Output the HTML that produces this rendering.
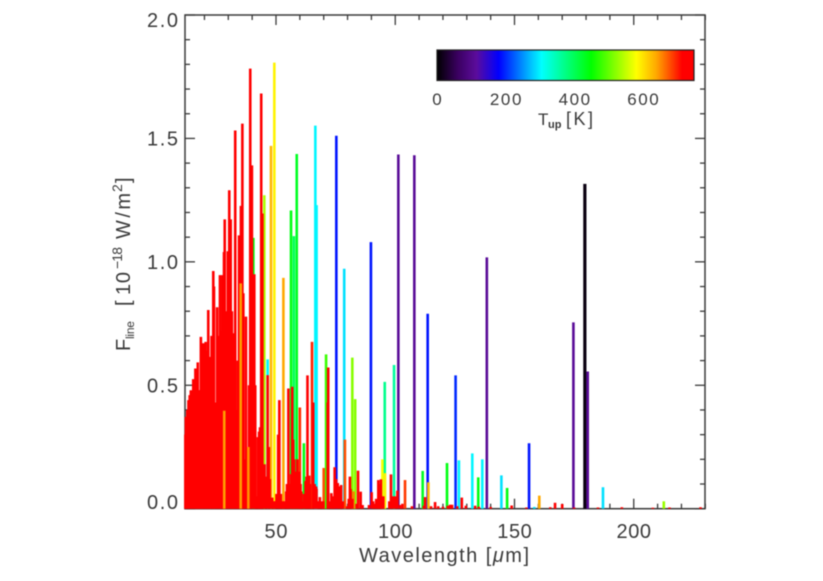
<!DOCTYPE html>
<html lang="en">
<head>
<meta charset="utf-8">
<title>Line flux versus wavelength</title>
<style>
html,body{margin:0;padding:0;background:#fff;}
svg{display:block;filter:blur(0.4px);}
text{font-family:"Liberation Sans",sans-serif;fill:#3a3a3a;}
</style>
</head>
<body>
<svg id="chart" xmlns="http://www.w3.org/2000/svg" width="823" height="581" viewBox="0 0 823 581">
  <defs>
    <linearGradient id="tempGradient" x1="0" x2="1" y1="0" y2="0"></linearGradient>
  </defs>
  <g id="axes"></g>
  <g id="lines"></g>
  <g id="labels">
    <text x="359" y="562" font-size="20" textLength="170">Wavelength [<tspan font-style="italic">μ</tspan>m]</text>
    <g transform="translate(130,351) rotate(-90)">
      <text x="0" y="0" font-size="20">F</text>
      <text x="12" y="4" font-size="12" textLength="18">line</text>
      <text x="45" y="0" font-size="20">[</text>
      <text x="56" y="0" font-size="20" textLength="23">10</text>
      <text x="82" y="-8" font-size="14" textLength="22">−18</text>
      <text x="112" y="0" font-size="20" textLength="46">W/m</text>
      <text x="159" y="-8" font-size="14">2</text>
      <text x="168" y="0" font-size="20">]</text>
    </g>
  </g>
  <g id="colorbar">
    <rect x="437" y="50" width="257" height="30.5" fill="url(#tempGradient)" stroke="#222" stroke-width="1.2"></rect>
    <text x="538" y="125" font-size="17">T</text>
    <text x="548" y="128" font-size="11" font-weight="bold">up</text>
    <text x="566" y="125" font-size="18" textLength="27">[K]</text>
  </g>
</svg>
<script>
const xTicks = [20, 30, 40, 50, 60, 70, 80, 90, 100, 110, 120, 130, 140, 150, 160, 170, 180, 190, 200, 210, 220, 230];
const xTickLabels = [50, 100, 150, 200];
const yTicks = [0, 0.1, 0.2, 0.3, 0.4, 0.5, 0.6, 0.7, 0.8, 0.9, 1, 1.1, 1.2, 1.3, 1.4, 1.5, 1.6, 1.7, 1.8, 1.9, 2];
const yTickLabels = ["0.0", "0.5", "1.0", "1.5", "2.0"];
const colorbarTicks = [0, 200, 400, 600];

const coloredWavelengths = [49.3, 47.9, 45.1, 53.1, 56.3, 58.7, 57.5, 66.5, 67, 75.3, 78.6, 40.5, 46.5, 61.7, 71, 82, 83.2, 89.8, 95.6, 99.5, 101.3, 94.6, 95.7, 108, 113.6, 125.3, 138.4, 174.7, 179.5, 180.7, 111.5, 113.9, 121.7, 126.7, 132.3, 134.8, 136.5, 144.5, 146.9, 156.1, 160.4, 158.3, 187.1, 212.6];
const coloredFluxes = [1.807, 1.47, 1.27, 0.935, 1.208, 1.437, 1.104, 1.552, 1.23, 1.511, 0.972, 1.097, 0.605, 0.265, 0.625, 0.612, 0.444, 1.08, 0.514, 0.582, 1.435, 0.2, 0.144, 1.432, 0.79, 0.54, 1.018, 0.755, 1.316, 0.556, 0.153, 0.107, 0.185, 0.196, 0.224, 0.127, 0.2, 0.135, 0.084, 0.265, 0.053, 0.007, 0.087, 0.03];
const coloredTemps = [590, 630, 540, 640, 440, 430, 400, 300, 300, 190, 290, 440, 300, 440, 480, 520, 520, 190, 370, 360, 110, 580, 590, 110, 190, 200, 110, 110, 10, 110, 430, 630, 440, 300, 300, 440, 300, 290, 440, 190, 640, 290, 290, 530];

const hotWavelengths = [12, 12.2, 12.8, 13.3, 13.8, 14.3, 14.8, 15.3, 15.8, 16.2, 16.7, 17.2, 17.6, 18, 18.5, 19, 19.5, 20, 20.5, 21, 21.6, 22, 22.5, 23, 23.7, 24, 24.5, 25.3, 25.8, 26.5, 27, 27.5, 27.9, 28.2, 28.5, 29, 29.8, 30.4, 31, 31.5, 32, 32.2, 32.9, 33.5, 34, 34.5, 35.3, 35.9, 36.3, 36.6, 37.4, 38.1, 38.7, 39.2, 39.9, 40.9, 41.3, 41.8, 42.4, 42.9, 43.3, 43.8, 44.3, 45.2, 46.5, 47.4, 48.4, 49.3, 50.2, 50.9, 51.4, 52, 52.6, 53.6, 54.3, 54.9, 55.2, 56.8, 57.2, 58, 58.4, 59.3, 60, 60.6, 61.2, 62.4, 63.2, 63.9, 64.5, 65.1, 65.6, 66.8, 67.5, 68.4, 69.3, 70, 71.9, 71.7, 72.7, 73.2, 74, 74.6, 75.9, 77.3, 78.9, 79.9, 80.5, 81, 82.5, 84.4, 85.5, 86.3, 89, 90.1, 91.5, 92.5, 92.9, 93.5, 94, 95, 98.2, 99.5, 100.9, 102, 104.1, 107, 112, 112.5, 116.7, 118, 123, 123.8, 127.9, 129.6, 133.5, 148.8, 155, 167, 170, 195, 208, 228];
const hotFluxes = [0.3, 0.372, 0.4, 0.44, 0.46, 0.48, 0.46, 0.525, 0.5, 0.568, 0.55, 0.593, 0.48, 0.48, 0.696, 0.66, 0.67, 0.65, 0.676, 0.64, 0.805, 0.615, 0.6, 0.7, 0.963, 0.9, 0.43, 0.816, 0.7, 0.946, 0.72, 0.946, 0.82, 1.04, 1.172, 0.8, 1.043, 1.29, 1.172, 0.8, 0.711, 0.3, 1.532, 0.4, 0.6, 1.107, 1.227, 1.56, 0.873, 0.2, 0.778, 0.25, 0.5, 1.783, 1.391, 0.95, 0.5, 0.05, 0.29, 0.312, 0.33, 1.682, 1.196, 0.18, 0.541, 0.12, 0.045, 0.03, 0.06, 0.3, 0.44, 0.06, 0.03, 0.03, 0.07, 0.1, 0.487, 0.494, 0.28, 0.15, 0.14, 0.1, 0.41, 0.07, 0.03, 0.112, 0.54, 0.134, 0.1, 0.676, 0.43, 0.09, 0.03, 0.047, 0.03, 0.165, 0.572, 0.43, 0.03, 0.063, 0.05, 0.168, 0.104, 0.096, 0.28, 0.01, 0.04, 0.13, 0.07, 0.154, 0.069, 0.015, 0.015, 0.067, 0.02, 0.03, 0.116, 0.09, 0.119, 0.05, 0.139, 0.05, 0.073, 0.015, 0.116, 0.01, 0.012, 0.047, 0.027, 0.01, 0.016, 0.016, 0.045, 0.012, 0.012, 0.013, 0.005, 0.024, 0.019, 0.006, 0.004, 0.006];
const hotTemps = [750, 750, 750, 750, 750, 750, 750, 750, 750, 750, 750, 750, 750, 750, 750, 750, 750, 750, 750, 750, 750, 750, 750, 750, 750, 750, 750, 750, 750, 750, 750, 750, 750, 750, 750, 750, 750, 750, 750, 750, 750, 750, 750, 750, 750, 750, 750, 750, 750, 750, 750, 750, 750, 750, 750, 750, 750, 750, 750, 750, 750, 750, 750, 750, 750, 750, 750, 750, 750, 750, 750, 750, 750, 750, 750, 750, 750, 750, 750, 750, 750, 750, 695, 750, 750, 750, 750, 750, 750, 700, 750, 750, 750, 750, 750, 680, 750, 750, 750, 750, 750, 750, 750, 750, 680, 750, 750, 750, 660, 750, 750, 750, 750, 750, 750, 750, 750, 750, 750, 750, 750, 750, 750, 750, 690, 750, 750, 750, 750, 750, 750, 750, 750, 750, 750, 750, 750, 750, 750, 750, 750, 750];

const weakWavelengths = [45.8, 47, 48.9, 49.8, 51.9, 53, 53.3, 54.6, 55.8, 56.3, 57.6, 58.9, 59.7, 60.3, 61.7, 62.8, 64.2, 66.2, 67, 68, 69.8, 73.8, 75.2, 76.5, 78, 81.3, 82, 83.8, 90.7, 92, 93.2, 94.5, 97.5, 98.8, 100.3, 103, 115, 120, 122, 126, 135, 140, 165, 175, 185, 215];
const weakFluxes = [0.13, 0.25, 0.03, 0.03, 0.05, 0.03, 0.02, 0.1, 0.1, 0.14, 0.2, 0.2, 0.15, 0.1, 0.06, 0.13, 0.1, 0.1, 0.08, 0.03, 0.03, 0.05, 0.12, 0.09, 0.03, 0.08, 0.04, 0.02, 0.03, 0.04, 0.1, 0.05, 0.03, 0.05, 0.05, 0.02, 0.01, 0.008, 0.012, 0.01, 0.008, 0.007, 0.006, 0.005, 0.005, 0.005];
const weakTemps = [750, 750, 750, 750, 750, 750, 750, 750, 750, 750, 750, 750, 750, 750, 750, 750, 750, 750, 750, 750, 750, 750, 750, 750, 750, 750, 750, 750, 750, 750, 750, 750, 750, 750, 750, 750, 750, 750, 750, 750, 750, 750, 750, 750, 750, 750];

const overlayWavelengths = [28.3, 35.2, 38.4];
const overlayFluxes = [0.397, 0.913, 0.25];
const overlayTemps = [645, 645, 650];

const colorStops = [[0, "#000000"], [60, "#3a0060"], [115, "#5c0c9c"], [180, "#0000ff"], [305, "#00ffff"], [450, "#00ff00"], [582, "#ffff00"], [640, "#ffa800"], [715, "#ff0000"], [750, "#ff0000"]];

const SVG_NS = "http://www.w3.org/2000/svg";
const xScale = w => 276 + (w - 50) * 2.385;
const yScale = f => 508.7 - f * 246.85;
const tempScale = t => 437 + t * 0.3433;

function hexToRgb(hex) {
  return [1, 3, 5].map(i => parseInt(hex.slice(i, i + 2), 16));
}
function tempColor(t) {
  for (let i = 1; i < colorStops.length; i++) {
    if (t <= colorStops[i][0]) {
      const a = colorStops[i - 1];
      const b = colorStops[i];
      const k = (t - a[0]) / (b[0] - a[0]);
      const ca = hexToRgb(a[1]);
      const cb = hexToRgb(b[1]);
      const c = ca.map((v, j) => Math.round(v + (cb[j] - v) * k));
      return "rgb(" + c.join(",") + ")";
    }
  }
  return colorStops[colorStops.length - 1][1];
}
function makeLine(parent, x1, y1, x2, y2, stroke, width) {
  const el = document.createElementNS(SVG_NS, "line");
  el.setAttribute("x1", x1);
  el.setAttribute("y1", y1);
  el.setAttribute("x2", x2);
  el.setAttribute("y2", y2);
  el.setAttribute("stroke", stroke);
  el.setAttribute("stroke-width", width);
  parent.appendChild(el);
  return el;
}
function makeText(parent, x, y, size, anchor, content, length) {
  const el = document.createElementNS(SVG_NS, "text");
  el.setAttribute("x", x);
  el.setAttribute("y", y);
  el.setAttribute("font-size", size);
  el.setAttribute("text-anchor", anchor);
  if (length) {
    el.setAttribute("textLength", length);
  }
  el.textContent = content;
  parent.appendChild(el);
  return el;
}

const axes = document.getElementById("axes");
const frame = document.createElementNS(SVG_NS, "rect");
frame.setAttribute("x", 185);
frame.setAttribute("y", 15);
frame.setAttribute("width", 520);
frame.setAttribute("height", 493.7);
frame.setAttribute("fill", "none");
frame.setAttribute("stroke", "#3a3a3a");
frame.setAttribute("stroke-width", "1.5");


axes.appendChild(frame);

xTicks.forEach(v => {
  const len = v % 50 === 0 ? 10 : 5;
  const bottom = makeLine(axes, xScale(v), 508.7, xScale(v), 508.7 - len, "#3a3a3a", 1.3);
  
  
  const top = makeLine(axes, xScale(v), 15, xScale(v), 15 + len, "#3a3a3a", 1.3);
  
  
});
yTicks.forEach((v, i) => {
  const len = i % 5 === 0 ? 10 : 5;
  const left = makeLine(axes, 185, yScale(v), 185 + len, yScale(v), "#3a3a3a", 1.3);
  
  
  const right = makeLine(axes, 705, yScale(v), 705 - len, yScale(v), "#3a3a3a", 1.3);
  
  
});

const labels = document.getElementById("labels");
xTickLabels.forEach(v => {
  const t = makeText(labels, xScale(v), 538, 20, "middle", String(v), String(v).length * 11.5);
  
  
});
yTickLabels.forEach(s => {
  const v = parseFloat(s);
  let y = yScale(v) + 7;
  if (v === 0) y = 509;
  if (v === 2) y = 27;
  const t = makeText(labels, 178, y, 20, "end", s, 31);
  
  
});

const lines = document.getElementById("lines");
function drawSeries(wavelengths, fluxes, temps) {
  wavelengths.forEach((w, i) => {
    const width = temps[i] < 50 ? 3.2 : 2.6;
    const ln = makeLine(lines, xScale(w), yScale(0), xScale(w), yScale(fluxes[i]), tempColor(temps[i]), width);
    
    
  });
}
drawSeries(coloredWavelengths, coloredFluxes, coloredTemps);
drawSeries(hotWavelengths, hotFluxes, hotTemps);
drawSeries(weakWavelengths, weakFluxes, weakTemps);
drawSeries(overlayWavelengths, overlayFluxes, overlayTemps);

const grad = document.getElementById("tempGradient");
colorStops.forEach(s => {
  const st = document.createElementNS(SVG_NS, "stop");
  st.setAttribute("offset", s[0] / 750);
  st.setAttribute("stop-color", s[1]);
  grad.appendChild(st);
});
const colorbar = document.getElementById("colorbar");
colorbarTicks.forEach(v => {
  const t = makeText(colorbar, tempScale(v), 105, 17, "middle", String(v), String(v).length * 10.5);
  
  
});
</script>
</body>
</html>
